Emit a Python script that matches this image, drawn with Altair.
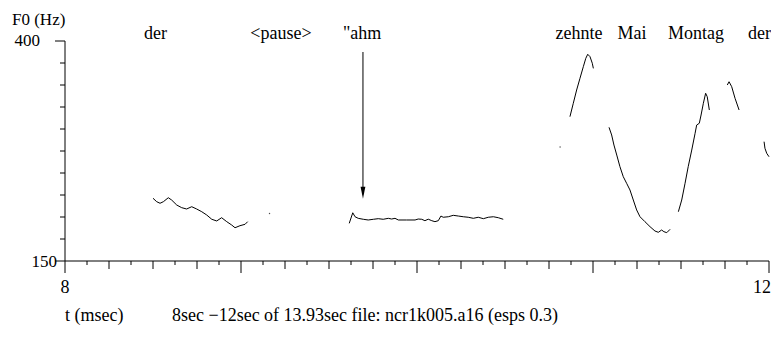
import altair as alt
import pandas as pd

# ---- F0 contour segments (time in s, F0 in Hz) ----
seg1_t = [8.500, 8.521, 8.540, 8.559, 8.587, 8.606, 8.635, 8.663, 8.691, 8.720, 8.748,
          8.777, 8.805, 8.834, 8.862, 8.890, 8.919, 8.947, 8.966, 8.994, 9.023, 9.038]
seg1_f = [221.3, 217.4, 215.6, 217.4, 221.9, 219.3, 213.6, 210.6, 209.1, 211.7, 209.1,
          206.0, 202.3, 197.4, 195.5, 199.2, 194.7, 190.9, 187.8, 190.1, 191.7, 194.7]

seg2_t = [9.615, 9.635, 9.648, 9.666, 9.695, 9.723, 9.752, 9.780, 9.808, 9.837, 9.856,
          9.875, 9.894, 9.941, 9.989, 10.007, 10.027, 10.045, 10.064, 10.084, 10.102,
          10.121, 10.136, 10.149, 10.178, 10.206, 10.235, 10.263, 10.291, 10.320, 10.348,
          10.377, 10.405, 10.434, 10.462, 10.490]
seg2_f = [192.8, 204.8, 200.3, 198.5, 197.4, 196.6, 197.4, 198.1, 197.4, 198.5, 197.7,
          198.5, 196.6, 196.6, 196.6, 197.7, 197.4, 195.8, 197.5, 195.8, 194.7,
          195.8, 201.1, 199.7, 200.3, 201.9, 201.1, 200.3, 199.7, 198.5, 199.7,
          198.1, 199.7, 200.3, 199.2, 197.4]

seg3_t = [10.869, 10.888, 10.907, 10.926, 10.945, 10.959, 10.970, 10.983, 10.996, 11.002]
seg3_f = [314.0, 329.2, 344.3, 357.6, 370.8, 380.3, 384.9, 382.2, 374.7, 368.9]

seg4_t = [11.091, 11.106, 11.119, 11.135, 11.153, 11.172, 11.191, 11.210, 11.229, 11.248,
          11.267, 11.295, 11.324, 11.352, 11.371, 11.390, 11.403, 11.419, 11.438]
seg4_f = [301.9, 293.2, 281.8, 270.4, 257.2, 245.8, 238.3, 230.7, 219.3, 208.0,
          200.3, 194.7, 189.0, 184.1, 182.6, 185.2, 183.3, 182.2, 186.0]

seg5_t = [11.485, 11.504, 11.523, 11.541, 11.561, 11.580, 11.589, 11.604, 11.614, 11.627,
          11.640, 11.649, 11.661]
seg5_f = [206.0, 219.3, 238.3, 257.2, 276.1, 295.1, 304.5, 306.5, 315.9, 329.2,
          340.6, 336.7, 321.6]

seg6_t = [11.763, 11.773, 11.788, 11.807, 11.830]
seg6_f = [350.0, 353.7, 348.1, 334.9, 321.6]

seg7_t = [11.972, 11.977, 11.987, 12.000]
seg7_f = [285.6, 278.1, 272.4, 268.5]

dots_t = [9.162, 10.813]
dots_f = [204.0, 279.5]

# ---- word labels ----
words = ["der", "<pause>", "\"ahm", "zehnte", "Mai", "Montag"]
words_t = [8.514, 9.227, 9.688, 10.920, 11.222, 11.585]
last_word = ["der"]
last_word_t = [12.0]

# arrow marking "ahm
arrow_t = [9.693]
arrow_top = [387.5]
arrow_bottom = [226.0]
arrow_head = [227.5]

# ---- axis ticks ----
x_major = [8, 9, 10, 11, 12]
x_mid = [8.25, 8.5, 8.75, 9.25, 9.5, 9.75, 10.25, 10.5, 10.75, 11.25, 11.5, 11.75]
x_minor = [8.125, 8.375, 8.625, 8.875, 9.125, 9.375, 9.625, 9.875,
           10.125, 10.375, 10.625, 10.875, 11.125, 11.375, 11.625, 11.875]
y_major = [150, 400]
y_minor = [175, 200, 225, 250, 275, 300, 325, 350, 375]

FONT = "Liberation Serif"
FS = 18
FS_SMALL = 17

segments = [(seg1_t, seg1_f), (seg2_t, seg2_f), (seg3_t, seg3_f), (seg4_t, seg4_f),
            (seg5_t, seg5_f), (seg6_t, seg6_f), (seg7_t, seg7_f)]
rows = []
for i, (ts, fs) in enumerate(segments):
    for j, (t, f) in enumerate(zip(ts, fs)):
        rows.append({"seg": i, "order": j, "t": t, "f0": f})
contour = pd.DataFrame(rows)

xs = alt.Scale(domain=[8, 12], nice=False, zero=False)
ys = alt.Scale(domain=[150, 400], nice=False, zero=False)
X = alt.X("t:Q", scale=xs, axis=None)
Y = alt.Y("f0:Q", scale=ys, axis=None)

lines = alt.Chart(contour).mark_line(color="black", strokeWidth=1).encode(
    x=X, y=Y, detail="seg:N", order="order:Q")

dots = alt.Chart(pd.DataFrame({"t": dots_t, "f0": dots_f})).mark_circle(
    color="black", size=2, opacity=0.7).encode(x=X, y=Y)

x_axis_line = alt.Chart(pd.DataFrame({"t": [8], "t2": [12], "f0": [150]})).mark_rule(
    color="black", strokeWidth=1).encode(x=X, x2="t2:Q", y=Y)
y_axis_line = alt.Chart(pd.DataFrame({"t": [8], "f0": [150], "f02": [400]})).mark_rule(
    color="black", strokeWidth=1).encode(x=X, y=Y, y2="f02:Q")

def xticks(vals, length):
    return alt.Chart(pd.DataFrame({"t": vals})).mark_rule(color="black", strokeWidth=1).encode(
        x=X, y=alt.value(220), y2=alt.value(220 + length))

def yticks(vals, length):
    return alt.Chart(pd.DataFrame({"f0": vals})).mark_rule(color="black", strokeWidth=1).encode(
        y=Y, x=alt.value(-length), x2=alt.value(0))

x8 = alt.Chart(pd.DataFrame({"t": [8], "lab": ["8"]})).mark_text(
    font=FONT, fontSize=FS, align="center", baseline="alphabetic", color="black").encode(
    x=X, y=alt.value(252), text="lab:N")
x12 = alt.Chart(pd.DataFrame({"t": [12], "lab": ["12"]})).mark_text(
    font=FONT, fontSize=FS, align="right", baseline="alphabetic", color="black", dx=2).encode(
    x=X, y=alt.value(252), text="lab:N")

y400 = alt.Chart(pd.DataFrame({"f0": [400], "lab": ["400"]})).mark_text(
    font=FONT, fontSize=FS_SMALL, align="right", baseline="alphabetic", dy=5, color="black").encode(
    y=Y, x=alt.value(-25), text="lab:N")
y150 = alt.Chart(pd.DataFrame({"f0": [150], "lab": ["150"]})).mark_text(
    font=FONT, fontSize=FS_SMALL, align="right", baseline="alphabetic", dy=6, color="black").encode(
    y=Y, x=alt.value(-8), text="lab:N")

ytitle = alt.Chart(pd.DataFrame({"lab": ["F0 (Hz)"]})).mark_text(
    font=FONT, fontSize=FS_SMALL, align="left", baseline="alphabetic", color="black").encode(
    x=alt.value(-53), y=alt.value(-16), text="lab:N")

word_layer = alt.Chart(pd.DataFrame({"t": words_t, "w": words})).mark_text(
    font=FONT, fontSize=FS, align="center", baseline="alphabetic", color="black").encode(
    x=X, y=alt.value(-2), text="w:N")
last_word_layer = alt.Chart(pd.DataFrame({"t": last_word_t, "w": last_word})).mark_text(
    font=FONT, fontSize=FS, align="right", baseline="alphabetic", color="black", dx=2).encode(
    x=X, y=alt.value(-2), text="w:N")

arrow_shaft = alt.Chart(pd.DataFrame({"t": arrow_t, "f0": arrow_top, "f02": arrow_bottom})).mark_rule(
    color="black", strokeWidth=1).encode(x=X, y=Y, y2="f02:Q")
arrow_tip = alt.Chart(pd.DataFrame({"t": arrow_t, "f0": arrow_head})).mark_point(
    shape="M-0.4,-1L0,1L0.4,-1Z", filled=True, color="black", size=144, opacity=1).encode(x=X, y=Y)

bottom1 = alt.Chart(pd.DataFrame({"lab": ["t (msec)"]})).mark_text(
    font=FONT, fontSize=FS, align="left", baseline="alphabetic", color="black").encode(
    x=alt.value(0), y=alt.value(280), text="lab:N")
bottom2 = alt.Chart(pd.DataFrame({"lab": ["8sec \u221212sec of 13.93sec file: ncr1k005.a16 (esps 0.3)"]})).mark_text(
    font=FONT, fontSize=FS, align="left", baseline="alphabetic", color="black").encode(
    x=alt.value(107), y=alt.value(280), text="lab:N")

chart = alt.layer(
    x_axis_line, y_axis_line,
    xticks(x_major, 12), xticks(x_mid, 8), xticks(x_minor, 4),
    yticks(y_major, 10), yticks(y_minor, 5),
    x8, x12, y400, y150, ytitle,
    lines, dots, word_layer, last_word_layer, arrow_shaft, arrow_tip, bottom1, bottom2,
).properties(
    width=704, height=220,
    autosize=alt.AutoSizeParams(type="none"),
    padding={"left": 57, "top": 33, "right": 2, "bottom": 75},
    background="white",
).configure_view(stroke=None)

chart.save("out.html", embed_options={"renderer": "svg", "actions": False})
